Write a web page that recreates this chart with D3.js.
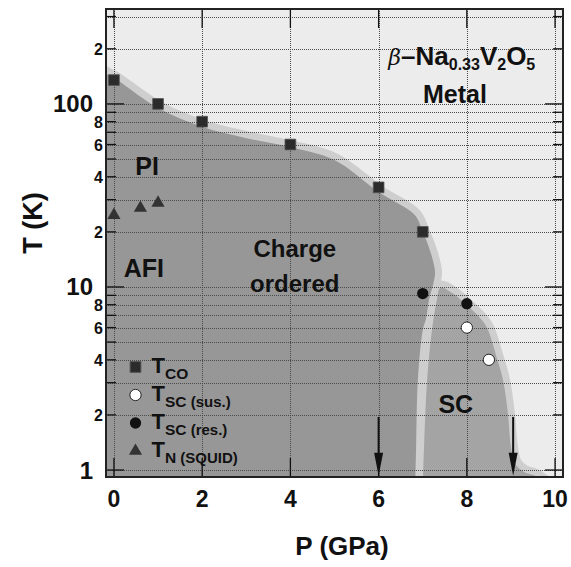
<!DOCTYPE html>
<html><head><meta charset="utf-8">
<script src="https://cdn.jsdelivr.net/npm/d3@7"></script>
<style>
html,body{margin:0;padding:0;background:#fff;}
svg text{font-family:"Liberation Sans",Arial,Helvetica,sans-serif;font-weight:bold;fill:#111;}
</style></head>
<body><svg id="c" width="571" height="567"></svg>
<script>
// ---- data ----
const coP = [0, 1, 2, 4, 6, 7];
const coT = [135, 100, 80, 60, 35, 20];
const scSusP = [8, 8.5];
const scSusT = [6.0, 4.0];
const scResP = [7, 8];
const scResT = [9.2, 8.1];
const nP = [0, 0.6, 1];
const nT = [24.7, 27, 28.8];
// phase boundaries (P, T)
const coBoundP = [-0.5, -0.18, 0, 1, 2, 3, 4, 5, 6, 6.82, 7.0, 7.1, 7.23, 7.28, 7.23, 7.14, 7.08, 7.0, 6.89, 6.85, 6.83];
const coBoundT = [165, 146, 139, 95, 75, 65, 58, 49.4, 33, 24.7, 20, 17.5, 14.0, 11.9, 10.2, 8.5, 6.8, 5.8, 3.1, 1.34, 0.8];
const scBoundP = [7.0, 7.03, 7.10, 7.21, 7.32, 7.40, 7.66, 8.0, 8.3, 8.46, 8.68, 8.82, 8.93, 9.0, 9.09, 9.3, 9.55, 9.8, 10.0];
const scBoundT = [0.8, 1.34, 3.1, 5.82, 8.49, 9.9, 9.3, 7.96, 6.77, 5.97, 4.1, 3.1, 2.05, 1.34, 1.09, 0.975, 0.93, 0.85, 0.8];
const arrowP = [6, 9.05];
const arrowTop = [1.95, 1.95];
const arrowBottom = [0.93, 0.93];
const xTickVals = [0, 2, 4, 6, 8, 10];
const yTickVals = [1, 2, 4, 6, 8, 10, 20, 40, 60, 80, 100, 200];
const yTickLabels = ["1", "2", "4", "6", "8", "10", "2", "4", "6", "8", "100", "2"];
const yMajor = [1, 10, 100];

// ---- layout ----
const L = 106, R = 563, T0 = 9, B = 477;
const x = d3.scaleLinear().domain([-0.18, 10.18]).range([L, R]);
const y = d3.scaleLog().domain([0.916, 330]).range([B, T0]);
const svg = d3.select("#c");
const C = {bg: "#ececec", band: "#cecece", co: "#979797", sc: "#a4a4a4"};

svg.append("defs").append("clipPath").attr("id", "clip")
  .append("rect").attr("x", L).attr("y", T0).attr("width", R - L).attr("height", B - T0);

const g = svg.append("g").attr("clip-path", "url(#clip)");
g.append("rect").attr("x", L).attr("y", T0).attr("width", R - L).attr("height", B - T0).attr("fill", C.bg);

const curve = d3.line().x(d => x(d[0])).y(d => y(d[1])).curve(d3.curveCatmullRom.alpha(0.5));
const coPts = coBoundP.map((p, i) => [p, coBoundT[i]]);
const scPts = scBoundP.map((p, i) => [p, scBoundT[i]]);
const coPath = curve(coPts) + `L${x(-0.5)},${y(0.8)}Z`;
const scPath = curve(scPts) + "Z";

g.append("path").attr("d", coPath).attr("fill", C.band).attr("stroke", C.band).attr("stroke-width", 14).attr("stroke-linejoin", "round");
g.append("path").attr("d", scPath).attr("fill", C.band).attr("stroke", C.band).attr("stroke-width", 14).attr("stroke-linejoin", "round");
g.append("path").attr("d", coPath).attr("fill", C.co);
g.append("path").attr("d", scPath).attr("fill", C.sc);

// gridlines
const minorY = [];
[1, 10, 100].forEach(dec => { for (let k = 1; k <= 9; k++) { const v = k * dec; if (v >= 1 && v <= 330) minorY.push(v); } });
const grid = svg.append("g").attr("stroke", "#4a4a4a").attr("stroke-width", 1).attr("stroke-dasharray", "1,1").attr("shape-rendering", "crispEdges");
grid.selectAll("line.h").data(minorY).join("line").attr("class", "h")
  .attr("x1", L).attr("x2", R).attr("y1", d => Math.round(y(d)) + 0.5).attr("y2", d => Math.round(y(d)) + 0.5);
grid.selectAll("line.v").data(xTickVals).join("line").attr("class", "v")
  .attr("y1", T0).attr("y2", B).attr("x1", d => Math.round(x(d)) + 0.5).attr("x2", d => Math.round(x(d)) + 0.5);

// ticks
const tk = svg.append("g").attr("stroke", "#111").attr("stroke-width", 1.3);
minorY.forEach(v => {
  const len = yMajor.includes(v) ? 18 : 10;
  const yy = y(v);
  tk.append("line").attr("x1", L).attr("x2", L + len).attr("y1", yy).attr("y2", yy);
  tk.append("line").attr("x1", R).attr("x2", R - len).attr("y1", yy).attr("y2", yy);
});
xTickVals.forEach(v => {
  const xx = x(v);
  tk.append("line").attr("x1", xx).attr("x2", xx).attr("y1", B).attr("y2", B - 19);
  tk.append("line").attr("x1", xx).attr("x2", xx).attr("y1", T0).attr("y2", T0 + 19);
});
svg.append("rect").attr("x", L).attr("y", T0).attr("width", R - L).attr("height", B - T0)
  .attr("fill", "none").attr("stroke", "#222").attr("stroke-width", 2);

// tick labels
svg.append("g").selectAll("text").data(yTickVals).join("text")
  .attr("x", d => yMajor.includes(d) ? 93 : 103)
  .attr("y", d => y(d))
  .attr("dy", d => yMajor.includes(d) ? 8.5 : 6)
  .attr("text-anchor", "end")
  .style("font-size", d => yMajor.includes(d) ? "24px" : "16px")
  .text((d, i) => yTickLabels[i]);
svg.append("g").selectAll("text").data(xTickVals).join("text")
  .attr("x", d => x(d)).attr("y", 507).attr("text-anchor", "middle")
  .style("font-size", "23px").text(d => d);

// axis titles
svg.append("text").attr("transform", "translate(42,223) rotate(-90)").attr("text-anchor", "middle")
  .style("font-size", "27px").text("T (K)");
svg.append("text").attr("x", 342).attr("y", 555).attr("text-anchor", "middle")
  .style("font-size", "26px").text("P (GPa)");

// region labels
function lab(p, t, txt, size, anchor) {
  return svg.append("text").attr("x", x(p)).attr("y", y(t)).attr("text-anchor", anchor || "middle")
    .style("font-size", size + "px").text(txt);
}
lab(0.75, 41, "PI", 25);
lab(0.68, 11.3, "AFI", 25);
lab(4.1, 14.6, "Charge", 24);
lab(4.1, 9.4, "ordered", 24);
lab(7.75, 2.05, "SC", 25);
lab(7.73, 101, "Metal", 25);
const ttl = svg.append("text").attr("x", x(6.22)).attr("y", y(163)).style("font-size", "26px");
ttl.append("tspan").style("font-style", "italic").style("font-weight", "normal").style("font-family", "'DejaVu Serif',serif").style("font-size", "22px").text("β");
ttl.append("tspan").text("–Na");
ttl.append("tspan").attr("dy", 5).style("font-size", "16px").text("0.33");
ttl.append("tspan").attr("dy", -5).text("V");
ttl.append("tspan").attr("dy", 5).style("font-size", "16px").text("2");
ttl.append("tspan").attr("dy", -5).text("O");
ttl.append("tspan").attr("dy", 5).style("font-size", "16px").text("5");

// markers
const sq = d3.symbol().type(d3.symbolSquare).size(115);
const tri = d3.symbol().type(d3.symbolTriangle).size(75);
const cir = d3.symbol().type(d3.symbolCircle).size(100);
svg.append("g").selectAll("path").data(coP).join("path")
  .attr("transform", (d, i) => `translate(${x(d)},${y(coT[i])})`).attr("d", sq)
  .attr("fill", "#2b2b2b").attr("stroke", "#555").attr("stroke-width", 0.8);
svg.append("g").selectAll("path").data(nP).join("path")
  .attr("transform", (d, i) => `translate(${x(d)},${y(nT[i])})`).attr("d", tri)
  .attr("fill", "#333");
svg.append("g").selectAll("path").data(scResP).join("path")
  .attr("transform", (d, i) => `translate(${x(d)},${y(scResT[i])})`).attr("d", cir)
  .attr("fill", "#111");
svg.append("g").selectAll("path").data(scSusP).join("path")
  .attr("transform", (d, i) => `translate(${x(d)},${y(scSusT[i])})`).attr("d", cir)
  .attr("fill", "#fff").attr("stroke", "#222").attr("stroke-width", 1);

// arrows
arrowP.forEach((p, i) => {
  const xx = x(p), yt = y(arrowTop[i]), yb = y(arrowBottom[i]);
  svg.append("line").attr("x1", xx).attr("x2", xx).attr("y1", yt).attr("y2", yb - 12).attr("stroke", "#111").attr("stroke-width", 2);
  svg.append("path").attr("d", `M${xx - 4.5},${yb - 23}L${xx + 4.5},${yb - 23}L${xx},${yb}Z`).attr("fill", "#111");
});

// legend
const lg = svg.append("g").attr("transform", "translate(135.5,367)");
const items = [
  {sym: sq, fill: "#2b2b2b", stroke: "#555", sub: "CO", extra: ""},
  {sym: cir, fill: "#fff", stroke: "#222", sub: "SC", extra: " (sus.)"},
  {sym: cir, fill: "#111", stroke: "none", sub: "SC", extra: " (res.)"},
  {sym: tri, fill: "#333", stroke: "none", sub: "N", extra: " (SQUID)"}
];
items.forEach((it, i) => {
  const row = lg.append("g").attr("transform", `translate(0,${i * 28})`);
  row.append("path").attr("d", it.sym).attr("fill", it.fill).attr("stroke", it.stroke).attr("stroke-width", 1);
  const t = row.append("text").attr("x", 16).attr("y", 6).style("font-size", "22px");
  t.append("tspan").text("T");
  t.append("tspan").attr("dy", 6).style("font-size", "15.5px").text(it.sub);
  if (it.extra) t.append("tspan").style("font-size", "15px").text(it.extra);
});
</script></body></html>
